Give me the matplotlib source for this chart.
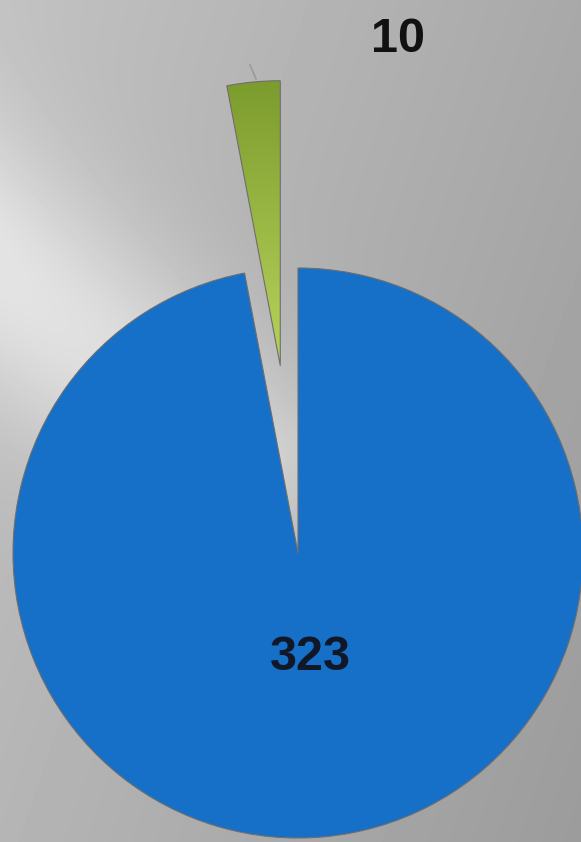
import numpy as np
import matplotlib
matplotlib.use('Agg')
import matplotlib.pyplot as plt
from matplotlib.colors import LinearSegmentedColormap

# pie data
labels = ['10', '323']
values = [10, 323]
colors = ['#8fae3a', '#1670c8']
explode = [0.66, 0]

W, H = 581, 842
R = 285
fig = plt.figure(figsize=(W / 100, H / 100), dpi=100)
ax = fig.add_axes([0, 0, 1, 1])

# gray background with a light diagonal streak
yy, xx = np.mgrid[0:H, 0:W]
base = 0.76 - 0.10 * (xx / W) - 0.05 * (yy / H)
p0 = np.array([300.0, 520.0])
d = np.array([-300.0, -250.0])
d = d / np.linalg.norm(d)
rx, ry = xx - p0[0], yy - p0[1]
perp = np.abs(rx * d[1] - ry * d[0])
along = rx * d[0] + ry * d[1]
streak = 0.15 * np.exp(-(perp / 110.0) ** 2) * np.clip((along + 60) / 120, 0, 1)
bg = np.clip(base + streak, 0, 1)
ax.imshow(bg, cmap='gray', vmin=0, vmax=1, extent=[0, W, 0, H],
          origin='upper', zorder=0, aspect='auto')

wedges, _ = ax.pie(values, colors=colors, explode=[e * R for e in explode],
                   startangle=90, counterclock=True, center=(298, 289),
                   radius=R, frame=True,
                   wedgeprops=dict(edgecolor='#6e6e6e', linewidth=0.8))
for w in wedges:
    w.set_zorder(2)

# green wedge: olive at the top, lighter at the tip
green = wedges[0]
gmap = LinearSegmentedColormap.from_list('g', ['#7a9a2c', '#b9d55c'])
grad = np.linspace(0, 1, 256).reshape(-1, 1)
gi = ax.imshow(grad, cmap=gmap, extent=[200, 320, 470, 770], origin='upper',
               zorder=3, aspect='auto')
gi.set_clip_path(green)
green.set_facecolor('none')
green.set_zorder(4)

# leader stub and labels
ax.plot([250, 256], [777, 763], color='#9a9a9a', lw=1.2, zorder=1)
ax.text(398, 803, labels[0], ha='center', va='center', fontsize=35,
        fontweight='bold', family='Liberation Sans', color='#111111', zorder=5)
ax.text(310, 185, labels[1], ha='center', va='center', fontsize=35,
        fontweight='bold', family='Liberation Sans', color='#101828', zorder=5)

ax.set_xlim(0, W)
ax.set_ylim(0, H)
ax.set_aspect('auto')
ax.axis('off')

fig.savefig('out.png', dpi=100)
